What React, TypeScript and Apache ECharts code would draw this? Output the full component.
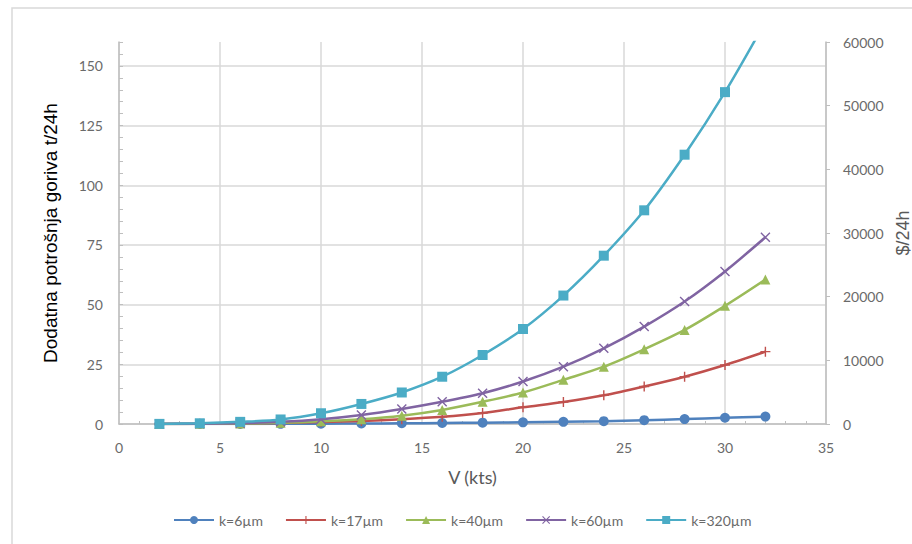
import React, { useEffect, useRef } from "react";
import * as echarts from "echarts";

const speeds = [2, 4, 6, 8, 10, 12, 14, 16, 18, 20, 22, 24, 26, 28, 30, 32];
const k6 = [0.0, 0.01, 0.03, 0.07, 0.12, 0.2, 0.3, 0.42, 0.55, 0.7, 0.92, 1.2, 1.6, 2.05, 2.6, 3.1];
const k17 = [0.01, 0.06, 0.2, 0.45, 0.8, 1.3, 2.0, 3.0, 4.6, 7.0, 9.2, 12.0, 15.7, 19.8, 24.7, 30.3];
const k40 = [0.01, 0.06, 0.2, 0.5, 1.1, 2.0, 3.5, 5.9, 9.3, 13.2, 18.5, 24.0, 31.3, 39.4, 49.5, 60.5];
const k60 = [0.02, 0.1, 0.35, 0.9, 2.0, 3.8, 6.3, 9.3, 12.9, 17.8, 24.0, 31.7, 40.8, 51.3, 63.9, 78.2];
const k320 = [0.05, 0.3, 0.9, 1.9, 4.5, 8.4, 13.2, 19.8, 28.9, 39.8, 53.8, 70.5, 89.5, 112.8, 139.0, 168.5];

const seriesNames = ["k=6µm", "k=17µm", "k=40µm", "k=60µm", "k=320µm"];
const seriesValues = [k6, k17, k40, k60, k320];
const colors = ["#4F81BD", "#C0504D", "#9BBB59", "#8064A2", "#4BACC6"];

const PLUS = "path://M0,4.3H10V5.7H0Z M4.3,0H5.7V10H4.3Z";
const CROSS = "path://M0,1 L1,0 L10,9 L9,10Z M9,0 L10,1 L1,10 L0,9Z";
const symbols = ["circle", PLUS, "triangle", CROSS, "rect"];
const symbolSizes = [10, 10, 10, 10, 10];

const LABEL_COLOR = "#6a6a6a";
const GRID_COLOR = "#d9d9d9";
const AXIS_COLOR = "#bfbfbf";

export default function App() {
  const ref = useRef<HTMLDivElement>(null);

  useEffect(() => {
    if (!ref.current) return;
    document.documentElement.style.overflow = "hidden";
    document.body.style.overflow = "hidden";
    document.body.style.margin = "0";
    const chart = echarts.init(ref.current, null, { renderer: "svg", width: 912, height: 544 });
    const series = seriesNames.map((name, i) => ({
      name,
      type: "line",
      yAxisIndex: 0,
      data: speeds.map((v, j) => [v, seriesValues[i][j]]),
      smooth: 0.3,
      symbol: symbols[i],
      symbolSize: symbolSizes[i],
      showAllSymbol: true,
      clip: true,
      lineStyle: { color: colors[i], width: 2.5 },
      itemStyle: { color: colors[i], borderWidth: 0 },
      z: 2 + i,
    }));

    chart.setOption({
      animation: false,
      backgroundColor: "#ffffff",
      color: colors,
      graphic: [
        {
          type: "rect",
          shape: { x: 12, y: 8, width: 1000, height: 1000 },
          style: { fill: "none", stroke: GRID_COLOR, lineWidth: 1.5 },
          silent: true,
        },
      ],
      grid: {
        left: 119,
        right: 86,
        top: 42,
        bottom: 120,
        containLabel: false,
        outerBoundsMode: "none",
      },
      legend: {
        left: 168,
        top: 508,
        itemWidth: 40,
        itemHeight: 10,
        itemGap: 22,
        textStyle: { color: LABEL_COLOR, fontSize: 14, fontFamily: "Lato" },
        data: seriesNames,
      },
      xAxis: {
        type: "value",
        min: 0,
        max: 35,
        interval: 5,
        name: "V (kts)",
        nameLocation: "middle",
        nameGap: 44,
        nameTextStyle: { color: "#595959", fontSize: 18, fontFamily: "Lato" },
        axisLine: { show: true, lineStyle: { color: AXIS_COLOR, width: 1.5 } },
        axisTick: { show: false, inside: true },
        minorTick: { show: true, splitNumber: 5, length: 3, lineStyle: { color: AXIS_COLOR } },
        axisLabel: { color: LABEL_COLOR, fontSize: 14, fontFamily: "Lato", margin: 16 },
        splitLine: { show: true, lineStyle: { color: GRID_COLOR, width: 1.5 } },
      },
      yAxis: [
        {
          type: "value",
          position: "left",
          min: 0,
          max: 160,
          interval: 25,
          name: "Dodatna potrošnja goriva t/24h",
          nameLocation: "middle",
          nameRotate: 90,
          nameGap: 59,
          nameTextStyle: { color: "#000000", fontSize: 19, fontFamily: "Liberation Sans" },
          axisLine: { show: true, lineStyle: { color: AXIS_COLOR, width: 1.5 } },
          axisTick: { show: false },
          axisLabel: {
            color: LABEL_COLOR,
            fontSize: 14,
            fontFamily: "Lato",
            margin: 16,
            showMaxLabel: false,
          },
          splitLine: { show: true, showMaxLine: false, lineStyle: { color: GRID_COLOR, width: 1.5 } },
        },
        {
          type: "value",
          position: "right",
          min: 0,
          max: 60000,
          interval: 10000,
          name: "$/24h",
          nameLocation: "middle",
          nameRotate: 90,
          nameGap: 61,
          nameTextStyle: { color: "#595959", fontSize: 18, fontFamily: "Liberation Sans" },
          axisLine: { show: true, lineStyle: { color: AXIS_COLOR, width: 1.5 } },
          axisTick: { show: true, length: 4, lineStyle: { color: AXIS_COLOR } },
          axisLabel: {
            color: LABEL_COLOR,
            fontSize: 14,
            fontFamily: "Lato",
            margin: 17,
            formatter: (v: number) => String(v),
          },
          splitLine: { show: false },
        },
        {
          type: "value",
          position: "left",
          min: 0,
          max: 160,
          interval: 5,
          axisLine: { show: false },
          axisTick: { show: true, inside: true, length: 4, lineStyle: { color: AXIS_COLOR } },
          axisLabel: { show: false },
          splitLine: { show: false },
        },
      ],
      series,
    });

    return () => chart.dispose();
  }, []);

  return (
    <div
      ref={ref}
      style={{ position: "fixed", left: 0, top: 0, width: 912, height: 544, background: "#fff" }}
    />
  );
}
